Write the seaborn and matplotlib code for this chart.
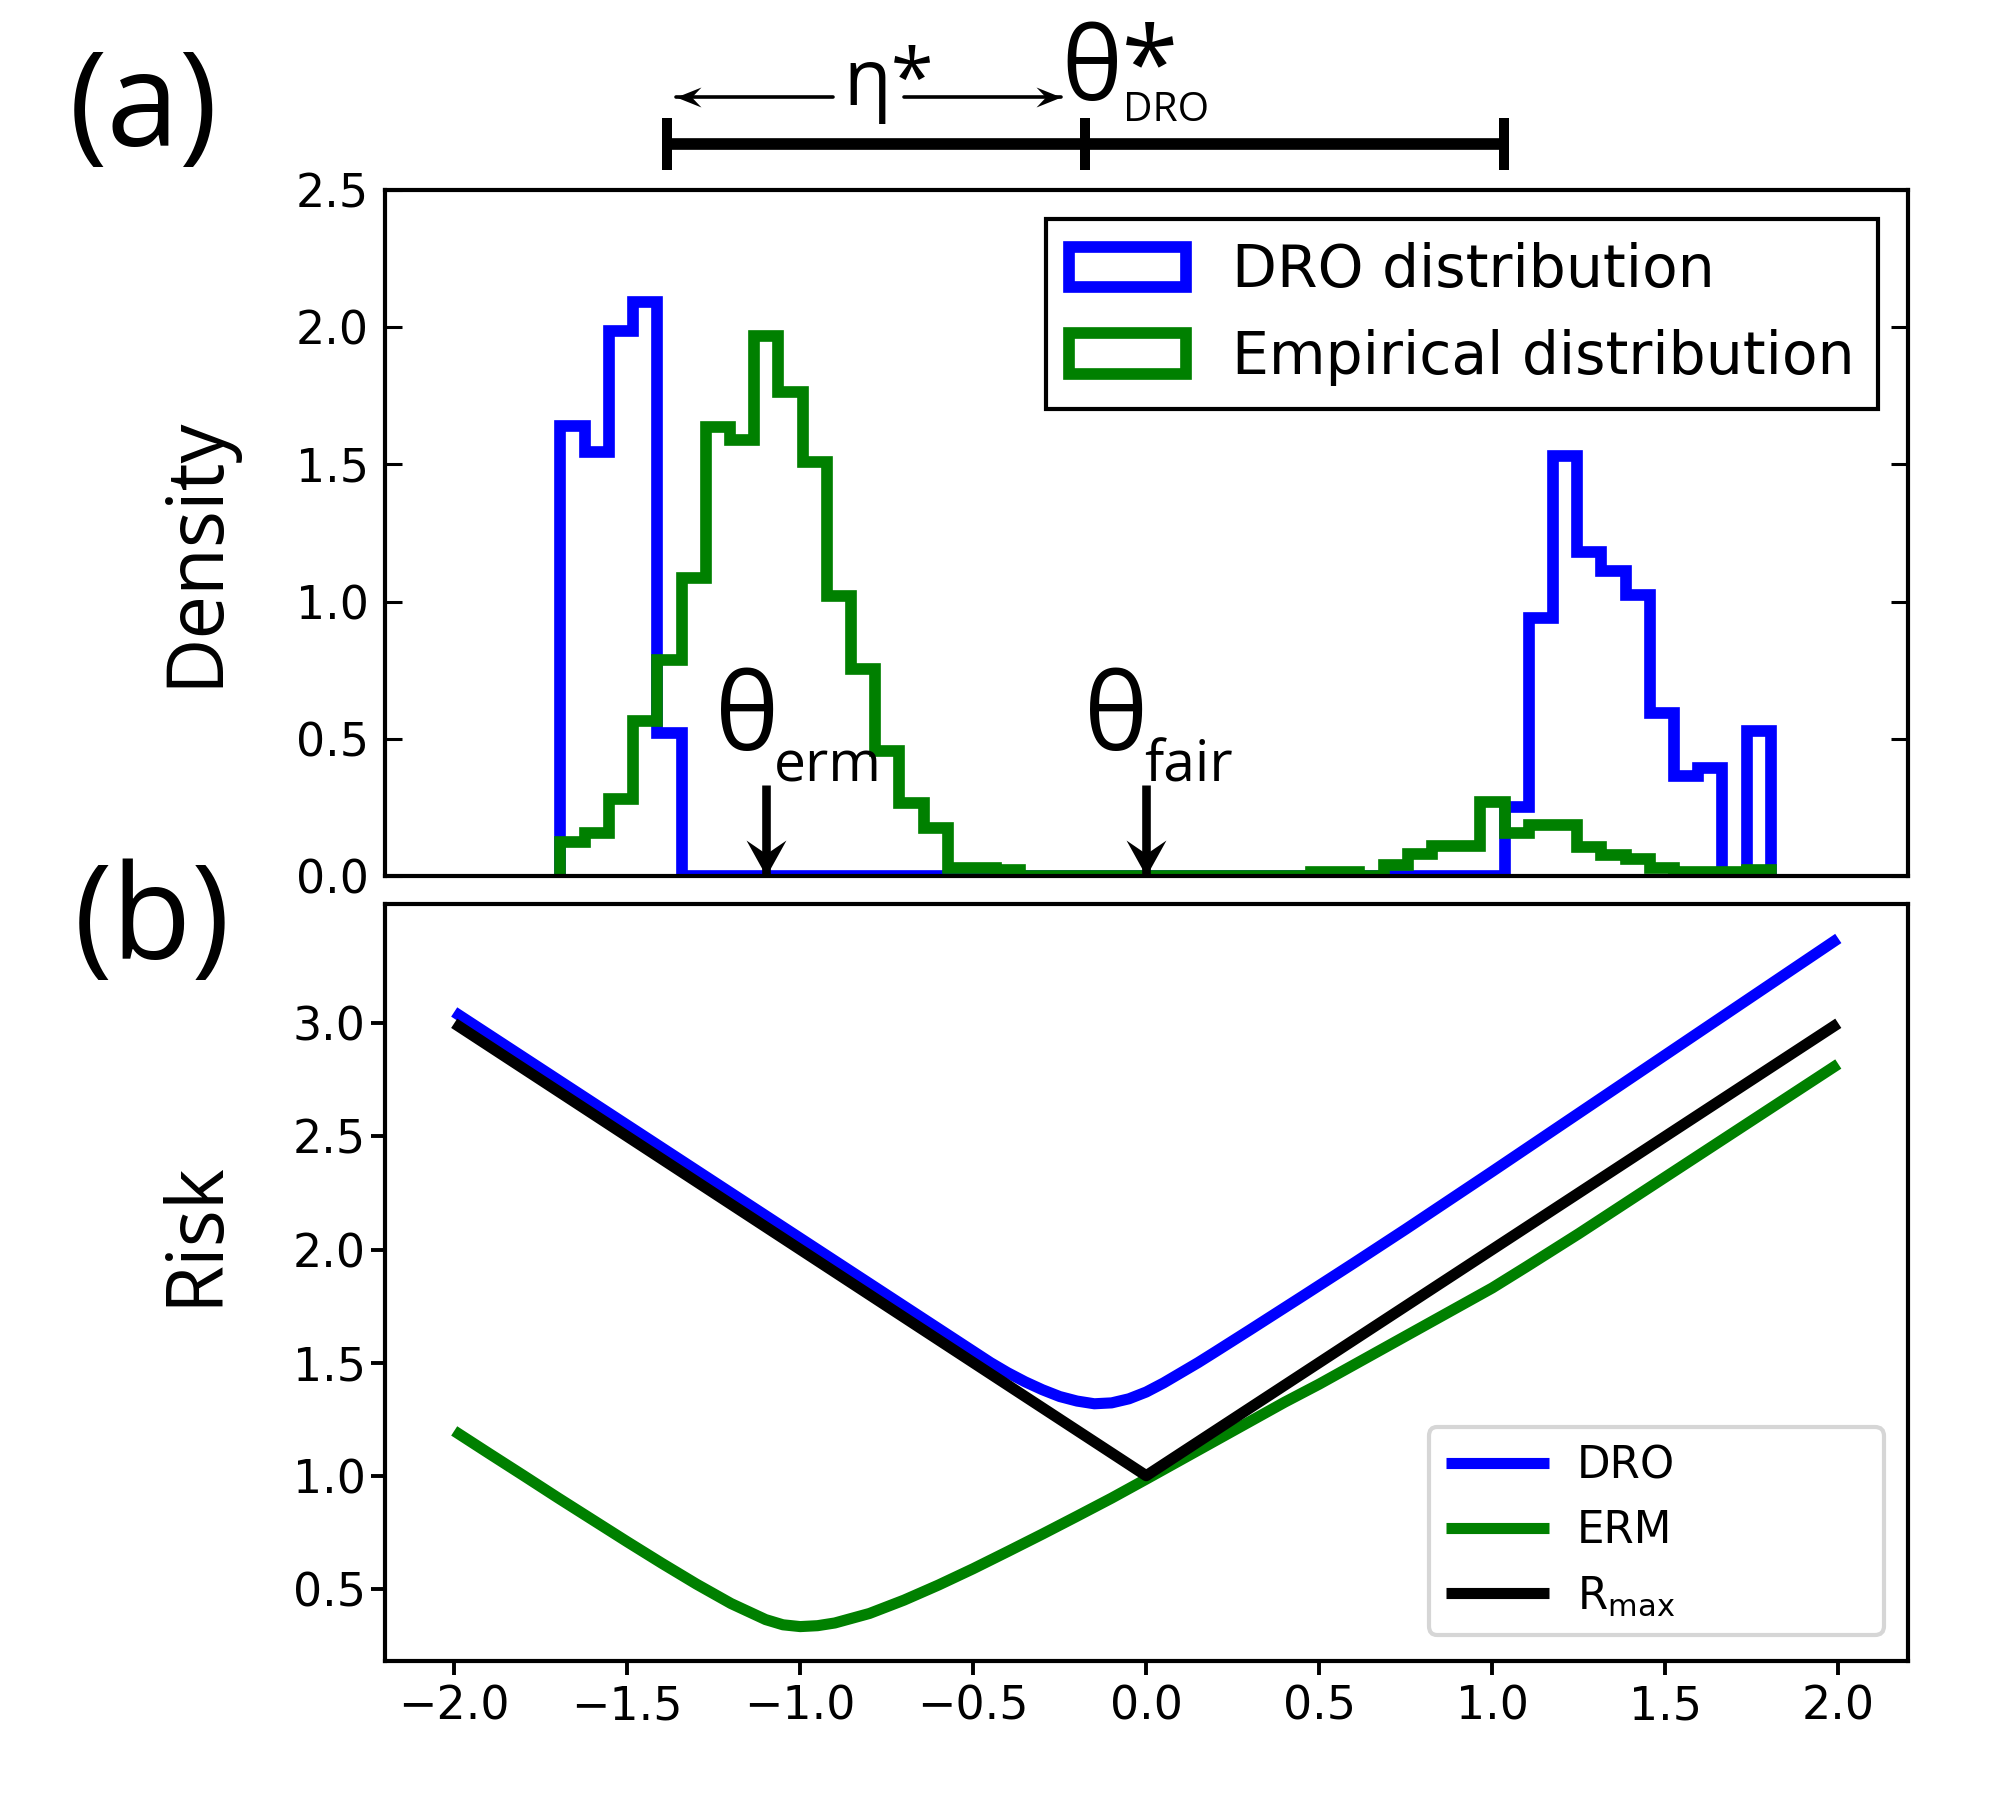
import numpy as np
import pandas as pd
import matplotlib
matplotlib.use("Agg")
import matplotlib.pyplot as plt
from matplotlib.path import Path
import seaborn as sns

sns.set_style("ticks")
plt.rcParams["font.family"] = ["DejaVu Sans"]
plt.rcParams["mathtext.default"] = "regular"
for key in ["text.color", "axes.labelcolor", "xtick.color", "ytick.color", "axes.edgecolor"]:
    plt.rcParams[key] = "black"

# ---------------- panel (a): histogram densities (50 equal bins) ----------------
hist_range = (-1.539, 1.641)
n_bins = 50
dro_density = [1.64, 1.545, 1.985, 2.09, 0.52,
               0, 0, 0, 0, 0, 0, 0, 0, 0, 0,
               0, 0, 0, 0, 0, 0, 0, 0, 0, 0,
               0, 0, 0, 0, 0, 0, 0, 0, 0, 0,
               0, 0, 0, 0,
               0.253, 0.94, 1.53, 1.18, 1.11, 1.025, 0.595, 0.365, 0.395, 0.0, 0.53]
emp_density = [0.125, 0.156, 0.281, 0.564, 0.786, 1.085, 1.635, 1.589, 1.967, 1.762,
               1.51, 1.022, 0.755, 0.455, 0.267, 0.173, 0.03, 0.03, 0.02, 0,
               0, 0, 0, 0, 0, 0, 0, 0, 0, 0,
               0, 0.015, 0.015, 0.0, 0.04, 0.08, 0.11, 0.11, 0.27, 0.155,
               0.185, 0.185, 0.105, 0.075, 0.06, 0.03, 0.015, 0.015, 0.015, 0.02]

theta_erm = -1.0
theta_fair = 0.0
theta_dro = -0.16
eta_lo, eta_hi = -1.26, 0.94

# ---------------- panel (b): risk curves ----------------
theta_dro_curve = [-2.0, -1.5, -1.0, -0.75, -0.6, -0.5, -0.45, -0.4, -0.35, -0.3,
                   -0.25, -0.2, -0.15, -0.1, -0.05, 0.0, 0.05, 0.1, 0.15, 0.2,
                   0.3, 0.45, 0.6, 0.75, 1.0, 1.5, 2.0]
risk_dro = [3.05, 2.55, 2.05, 1.80, 1.65, 1.55, 1.50, 1.455, 1.415, 1.38,
            1.35, 1.33, 1.318, 1.322, 1.34, 1.37, 1.41, 1.455, 1.50, 1.548,
            1.645, 1.792, 1.94, 2.09, 2.345, 2.86, 3.375]
theta_erm_curve = [-2.0, -1.9, -1.8, -1.7, -1.6, -1.5, -1.4, -1.3, -1.2, -1.1,
                   -1.05, -1.0, -0.95, -0.9, -0.8, -0.7, -0.6, -0.5, -0.4, -0.3,
                   -0.2, -0.1, 0.0, 0.1, 0.2, 0.3, 0.4, 0.5, 0.6, 0.7,
                   0.8, 0.9, 1.0, 1.1, 1.25, 1.5, 1.75, 2.0]
risk_erm = [1.198, 1.099, 1.001, 0.902, 0.805, 0.708, 0.613, 0.521, 0.435, 0.364,
            0.341, 0.333, 0.337, 0.349, 0.391, 0.450, 0.517, 0.589, 0.665, 0.742,
            0.821, 0.901, 0.985, 1.07, 1.155, 1.24, 1.325, 1.405, 1.49, 1.575,
            1.66, 1.745, 1.83, 1.925, 2.07, 2.32, 2.57, 2.82]
theta_rmax_curve = [-2.0, -1.0, 0.0, 1.0, 2.0]
risk_rmax = [3.0, 2.0, 1.0, 2.0, 3.0]
rmax_label = r"$\mathregular{R_{max}}$"

edges = np.linspace(hist_range[0], hist_range[1], n_bins + 1)
centers = (edges[:-1] + edges[1:]) / 2

df = pd.concat([
    pd.DataFrame({"theta": theta_dro_curve, "risk": risk_dro, "curve": "DRO"}),
    pd.DataFrame({"theta": theta_erm_curve, "risk": risk_erm, "curve": "ERM"}),
    pd.DataFrame({"theta": theta_rmax_curve, "risk": risk_rmax, "curve": rmax_label}),
])


def head(angle, half, notch=0.62):
    # concave arrow head, tip at the origin
    v = np.array([[0, 0], [-1, half], [-notch, 0], [-1, -half], [0, 0]])
    a = np.deg2rad(angle)
    rot = np.array([[np.cos(a), -np.sin(a)], [np.sin(a), np.cos(a)]])
    return Path(v @ rot.T, [Path.MOVETO, Path.LINETO, Path.LINETO, Path.LINETO, Path.CLOSEPOLY])


fig = plt.figure(figsize=(10, 8.975), dpi=200)
ax1 = fig.add_axes([0.1925, 0.5120, 0.76125, 0.3822])
ax2 = fig.add_axes([0.1925, 0.07465, 0.76125, 0.4217])

# ---- (a) ----
ax1.hist(centers, bins=edges, weights=dro_density, histtype="step", color="blue", lw=4.2,
         label="DRO distribution")
ax1.hist(centers, bins=edges, weights=emp_density, histtype="step", color="green", lw=4.2,
         label="Empirical distribution")
ax1.set_xlim(-2, 2)
ax1.set_ylim(0, 2.5)
ax1.set_xticks([])
ax1.set_yticks([0.0, 0.5, 1.0, 1.5, 2.0, 2.5])
ax1.tick_params(axis="y", direction="in", length=6, width=1.1, labelsize=16.5, pad=5.8,
                left=True, right=True)
leg = ax1.legend(loc="upper right", fontsize=21, fancybox=False, edgecolor="black", framealpha=1)
leg.get_frame().set_linewidth(1.5)

oso = "Open Sans"
# theta_erm / theta_fair markers
for xv, xt, xs, sub in [(theta_erm, -1.048, -0.978, "erm"), (theta_fair, -0.080, -0.006, "fair")]:
    ax1.plot([xv, xv], [0.33, 0.0], color="black", lw=3.1, solid_capstyle="butt", clip_on=False)
    ax1.plot([xv], [0.0], marker=head(-90, 0.555), ms=25.9, color="black", mew=0, clip_on=False)
    ax1.text(xt, 0.459, "θ", fontsize=39, family=oso, ha="center", va="baseline")
    ax1.text(xs, 0.346, sub, fontsize=20.5, family=oso, ha="left", va="baseline")

# eta* bar and theta_DRO
ax1.plot([eta_lo, theta_dro, eta_hi], [2.668] * 3, color="black", lw=4.2, marker="|", ms=18.7,
         mew=3.6, solid_capstyle="butt", clip_on=False)
ax1.plot([-0.823, -1.236], [2.84, 2.84], color="black", lw=1.3, clip_on=False)
ax1.plot([-0.637, -0.224], [2.84, 2.84], color="black", lw=1.3, clip_on=False)
ax1.plot([-1.236], [2.84], marker=head(180, 0.4), ms=18, color="black", mew=0, clip_on=False)
ax1.plot([-0.224], [2.84], marker=head(0, 0.4), ms=18, color="black", mew=0, clip_on=False)
ax1.text(-0.795, 2.81, "η*", fontsize=28, family=oso, ha="left", va="baseline")
ax1.text(-0.222, 2.828, "θ*", fontsize=37, family=oso, ha="left", va="baseline")
ax1.text(-0.060, 2.751, "DRO", fontsize=14.6, family=oso, ha="left", va="baseline")

# ---- (b) ----
sns.lineplot(data=df, x="theta", y="risk", hue="curve", ax=ax2, linewidth=4,
             palette={"DRO": "blue", "ERM": "green", rmax_label: "black"},
             hue_order=["DRO", "ERM", rmax_label], solid_capstyle="butt")
ax2.set_xlabel("")
ax2.set_ylabel("")
ax2.set_xticks([-2.0, -1.5, -1.0, -0.5, 0.0, 0.5, 1.0, 1.5, 2.0])
ax2.set_yticks([0.5, 1.0, 1.5, 2.0, 2.5, 3.0])
ax2.tick_params(direction="out", length=5, width=1.4, labelsize=16.5)
ax2.tick_params(axis="y", pad=2)
sns.move_legend(ax2, "lower left", bbox_to_anchor=(0.6855, 0.0343, 0.2991, 0.276), mode="expand",
                borderaxespad=0, fontsize=15.7, handlelength=2.35, handletextpad=0.65,
                title="", framealpha=0.8)
ax2.get_legend().get_frame().set_linewidth(1.5)

for ax in (ax1, ax2):
    for s in ax.spines.values():
        s.set_color("black")
        s.set_linewidth(1.5)

fig.text(0.072, 0.9376, "(a)", fontsize=47, family=oso, ha="center", va="center")
fig.text(0.076, 0.4847, "(b)", fontsize=47, family=oso, ha="center", va="center")
fig.text(0.0978, 0.6931, "Density", fontsize=28, family=oso, rotation=90, ha="center", va="center")
fig.text(0.0978, 0.3131, "Risk", fontsize=28, family=oso, rotation=90, ha="center", va="center")

fig.savefig("out.png", dpi=200)
